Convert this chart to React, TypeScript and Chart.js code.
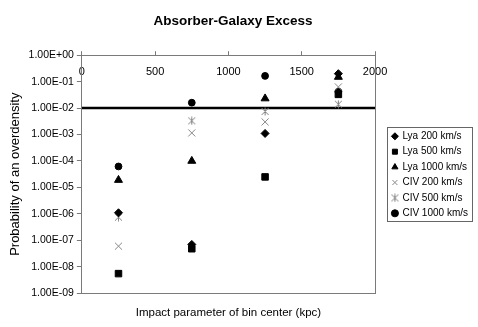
import React, { useEffect, useRef } from 'react';
import { Chart, registerables } from 'chart.js';

Chart.register(...registerables);

// ---- data ----
const xCenters = [250, 750, 1250, 1750];
const lya200 = [1.1e-6, 7.0e-8, 1.1e-3, 0.2];
const lya500 = [5.5e-9, 4.8e-8, 2.5e-5, 0.033];
const lya1000 = [1.9e-5, 1.0e-4, 0.023, 0.15];
const civ200 = [6.0e-8, 1.15e-3, 3.0e-3, 0.063];
const civ500 = [7.5e-7, 3.3e-3, 7.5e-3, 0.014];
const civ1000 = [6.2e-5, 0.016, 0.165, 0.042];
const seriesNames = ['Lya 200 km/s', 'Lya 500 km/s', 'Lya 1000 km/s', 'CIV 200 km/s', 'CIV 500 km/s', 'CIV 1000 km/s'];
const xTickValues = [0, 500, 1000, 1500, 2000];
const yTickValues = [1, 1e-1, 1e-2, 1e-3, 1e-4, 1e-5, 1e-6, 1e-7, 1e-8, 1e-9];
const yTickLabels = ['1.00E+00', '1.00E-01', '1.00E-02', '1.00E-03', '1.00E-04', '1.00E-05', '1.00E-06', '1.00E-07', '1.00E-08', '1.00E-09'];
const thresholdX = [0, 2000];
const thresholdY = 0.01;

const FONT = '"Liberation Sans", Arial, Helvetica, sans-serif';
const AXIS_GRAY = '#7a7a7a';
const LEGEND_SHIFT = 12;

function makeStar(): HTMLCanvasElement {
  const c = document.createElement('canvas');
  c.width = 9;
  c.height = 9;
  const g = c.getContext('2d')!;
  g.strokeStyle = '#808080';
  g.lineWidth = 1;
  g.beginPath();
  g.moveTo(1, 1);
  g.lineTo(8, 8);
  g.moveTo(8, 1);
  g.lineTo(1, 8);
  g.moveTo(4.5, 0.5);
  g.lineTo(4.5, 8.5);
  g.stroke();
  return c;
}

const frameAndLegend = {
  id: 'frameAndLegend',
  afterLayout(chart: any) {
    const l = chart.legend;
    if (l) {
      l.left += LEGEND_SHIFT;
      l.right += LEGEND_SHIFT;
    }
  },
  afterDraw(chart: any) {
    const ctx = chart.ctx;
    const a = chart.chartArea;
    ctx.save();
    // right frame of plot area
    ctx.strokeStyle = AXIS_GRAY;
    ctx.lineWidth = 1;
    ctx.beginPath();
    const xr = Math.round(a.right) + 0.5;
    ctx.moveTo(xr, a.top);
    ctx.lineTo(xr, a.bottom);
    ctx.stroke();
    // legend frame
    const l = chart.legend;
    if (l && l.legendHitBoxes && l.legendHitBoxes.length) {
      let minT = Infinity, maxB = -Infinity, maxR = -Infinity;
      for (const h of l.legendHitBoxes) {
        minT = Math.min(minT, h.top);
        maxB = Math.max(maxB, h.top + h.height);
        maxR = Math.max(maxR, h.left + h.width);
      }
      ctx.strokeStyle = '#666';
      const x0 = Math.round(l.left) + 0.5;
      const y0 = Math.round(minT - 4) + 0.5;
      const x1 = Math.round(maxR + 4) + 0.5;
      const y1 = Math.round(maxB + 3) + 0.5;
      ctx.strokeRect(x0, y0, x1 - x0, y1 - y0);
    }
    ctx.restore();
  },
};

export default function App() {
  const ref = useRef<HTMLCanvasElement>(null);

  useEffect(() => {
    if (!ref.current) return;
    const star = makeStar();
    const pts = (arr: number[]) => arr.map((v, i) => ({ x: xCenters[i], y: v }));
    const styles: any[] = [
      { pointStyle: 'rectRot', radius: 4, bg: '#000', border: '#000' },
      { pointStyle: 'rect', radius: 4.6, bg: '#000', border: '#000' },
      { pointStyle: 'triangle', radius: 4.6, bg: '#000', border: '#000' },
      { pointStyle: 'crossRot', radius: 5, bg: '#888', border: '#888' },
      { pointStyle: star, radius: 4.5, bg: '#888', border: '#888' },
      { pointStyle: 'circle', radius: 3.4, bg: '#000', border: '#000' },
    ];
    const series = [lya200, lya500, lya1000, civ200, civ500, civ1000];
    const datasets: any[] = series.map((s, i) => ({
      type: 'scatter',
      label: seriesNames[i],
      data: pts(s),
      pointStyle: styles[i].pointStyle,
      pointRadius: styles[i].radius,
      backgroundColor: styles[i].bg,
      borderColor: styles[i].border,
      borderWidth: 1,
      showLine: false,
      xAxisID: 'x',
      yAxisID: 'y',
    }));
    datasets.push({
      type: 'line',
      label: 'threshold',
      data: thresholdX.map((x) => ({ x, y: thresholdY })),
      borderColor: '#000',
      borderWidth: 2.5,
      pointRadius: 0,
      xAxisID: 'x',
      yAxisID: 'y',
    });

    const chart = new Chart(ref.current, {
      type: 'scatter',
      data: { datasets },
      options: {
        responsive: false,
        animation: false,
        events: [],
        layout: { padding: { left: 0, right: 12, top: 0, bottom: 0 } },
        plugins: {
          title: {
            display: true,
            text: 'Absorber-Galaxy Excess',
            color: '#000',
            font: { family: FONT, size: 13.5, weight: 'bold' },
            padding: { top: 13, bottom: 2 },
          },
          legend: {
            position: 'right',
            align: 'center',
            title: { display: true, text: ' ', font: { family: FONT, size: 8 }, padding: { top: 0, bottom: 13 } },
            labels: {
              usePointStyle: true,
              boxWidth: 5,
              boxHeight: 5,
              padding: 5.4,
              color: '#000',
              font: { family: FONT, size: 10 },
              filter: (item: any) => item.text !== 'threshold',
            },
          },
          tooltip: { enabled: false },
        },
        scales: {
          x: {
            type: 'linear',
            position: 'top',
            min: 0,
            max: 2000,
            afterBuildTicks: (scale: any) => {
              scale.ticks = xTickValues.map((v) => ({ value: v }));
            },
            ticks: {
              mirror: true,
              padding: 10,
              color: '#000',
              font: { family: FONT, size: 11 },
              maxRotation: 0,
              callback: (v: any) => String(v),
            },
            grid: { drawOnChartArea: false, drawTicks: true, tickLength: 4, color: AXIS_GRAY },
            border: { display: true, color: AXIS_GRAY, width: 1 },
          },
          x2: {
            type: 'linear',
            position: 'bottom',
            min: 0,
            max: 2000,
            ticks: { display: false },
            grid: { display: false, drawTicks: false },
            border: { display: true, color: AXIS_GRAY, width: 1 },
            title: {
              display: true,
              text: 'Impact parameter of bin center (kpc)',
              color: '#000',
              font: { family: FONT, size: 11.5 },
              padding: { top: 13, bottom: 7 },
            },
          },
          y: {
            type: 'logarithmic',
            position: 'left',
            min: 1e-9,
            max: 1,
            afterBuildTicks: (scale: any) => {
              scale.ticks = yTickValues.map((v) => ({ value: v }));
            },
            ticks: {
              color: '#000',
              padding: 3,
              font: { family: FONT, size: 10.5 },
              callback: (v: any) => {
                const i = yTickValues.findIndex((t) => Math.abs(Math.log10(t) - Math.log10(v)) < 1e-6);
                return i >= 0 ? yTickLabels[i] : '';
              },
            },
            grid: { drawOnChartArea: false, drawTicks: true, tickLength: 5, color: AXIS_GRAY },
            border: { display: true, color: AXIS_GRAY, width: 1 },
            title: {
              display: true,
              text: 'Probability of an overdensity',
              color: '#000',
              font: { family: FONT, size: 13 },
              padding: { top: 8, bottom: 2 },
            },
          },
        },
      } as any,
      plugins: [frameAndLegend],
    });
    return () => chart.destroy();
  }, []);

  return (
    <div style={{ position: 'fixed', left: 0, top: 0, width: 478, height: 327, background: '#fff' }}>
      <canvas ref={ref} width={478} height={327} style={{ display: 'block' }} />
    </div>
  );
}
